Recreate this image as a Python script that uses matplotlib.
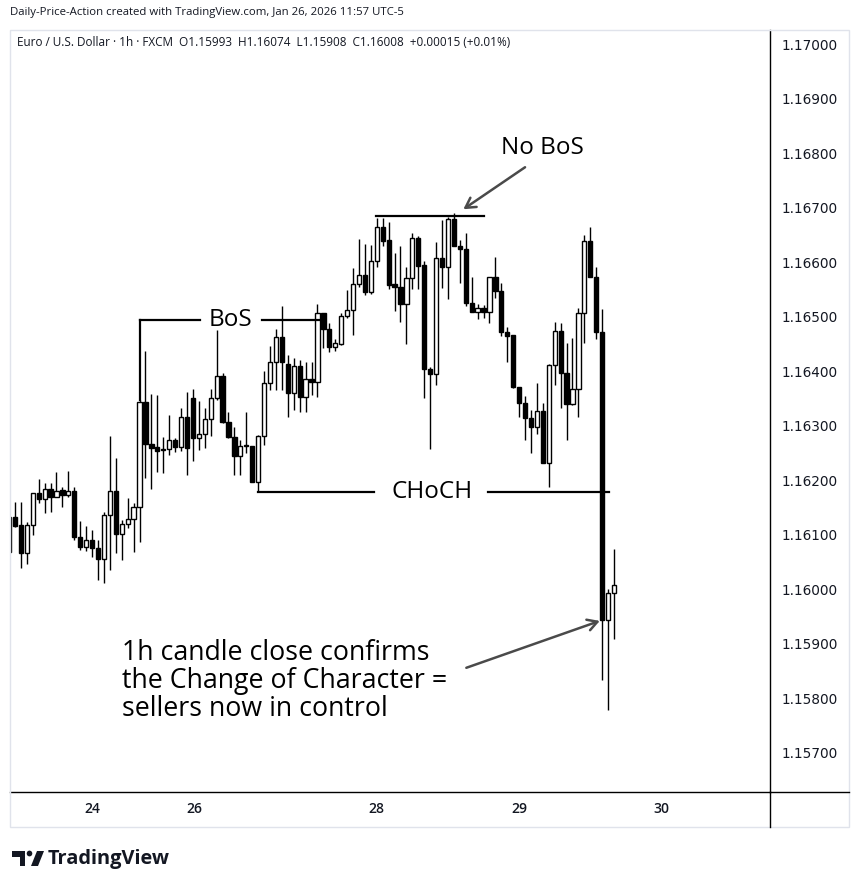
import matplotlib
matplotlib.use("Agg")
import matplotlib.pyplot as plt
from matplotlib.patches import Rectangle, Polygon, Circle, FancyArrowPatch
from matplotlib.lines import Line2D

# ---- data (EUR/USD 1h, FXCM) ----
opens = [1.16068, 1.16133, 1.16118, 1.16067, 1.16118, 1.16177, 1.16166, 1.16184, 1.16169, 1.16182,
         1.16173, 1.16180, 1.16096, 1.16078, 1.16090, 1.16076, 1.16056, 1.16136, 1.16180, 1.16101,
         1.16120, 1.16129, 1.16151, 1.16343, 1.16266, 1.16261, 1.16257, 1.16257, 1.16274, 1.16261,
         1.16316, 1.16351, 1.16277, 1.16285, 1.16312, 1.16351, 1.16391, 1.16307, 1.16279, 1.16244,
         1.16265, 1.16263, 1.16197, 1.16281, 1.16378, 1.16417, 1.16463, 1.16413, 1.16360, 1.16409,
         1.16353, 1.16386, 1.16380, 1.16507, 1.16477, 1.16444, 1.16450, 1.16501, 1.16512, 1.16560,
         1.16576, 1.16545, 1.16602, 1.16664, 1.16641, 1.16560, 1.16554, 1.16523, 1.16571, 1.16644,
         1.16595, 1.16404, 1.16395, 1.16608, 1.16591, 1.16679, 1.16630, 1.16624, 1.16525, 1.16508,
         1.16516, 1.16508, 1.16573, 1.16547, 1.16472, 1.16466, 1.16371, 1.16342, 1.16314, 1.16298,
         1.16327, 1.16232, 1.16411, 1.16474, 1.16397, 1.16340, 1.16367, 1.16507, 1.16639, 1.16573,
         1.16472, 1.15944, 1.15993]
highs = [1.16136, 1.16160, 1.16160, 1.16124, 1.16177, 1.16202, 1.16195, 1.16195, 1.16215, 1.16188,
         1.16217, 1.16188, 1.16125, 1.16116, 1.16109, 1.16090, 1.16142, 1.16281, 1.16241, 1.16127,
         1.16167, 1.16158, 1.16347, 1.16437, 1.16358, 1.16356, 1.16279, 1.16320, 1.16277, 1.16332,
         1.16362, 1.16367, 1.16345, 1.16332, 1.16367, 1.16475, 1.16397, 1.16325, 1.16298, 1.16274,
         1.16325, 1.16263, 1.16283, 1.16400, 1.16446, 1.16477, 1.16520, 1.16430, 1.16424, 1.16420,
         1.16417, 1.16417, 1.16523, 1.16507, 1.16488, 1.16459, 1.16507, 1.16549, 1.16589, 1.16642,
         1.16633, 1.16631, 1.16681, 1.16681, 1.16673, 1.16617, 1.16630, 1.16591, 1.16653, 1.16648,
         1.16602, 1.16408, 1.16637, 1.16677, 1.16683, 1.16690, 1.16641, 1.16653, 1.16573, 1.16523,
         1.16521, 1.16573, 1.16609, 1.16562, 1.16481, 1.16466, 1.16371, 1.16354, 1.16329, 1.16378,
         1.16342, 1.16413, 1.16490, 1.16488, 1.16452, 1.16461, 1.16516, 1.16650, 1.16664, 1.16591,
         1.16514, 1.16000, 1.16074]
lows = [1.16063, 1.16114, 1.16039, 1.16046, 1.16100, 1.16158, 1.16140, 1.16142, 1.16169, 1.16151,
        1.16169, 1.16090, 1.16072, 1.16070, 1.16059, 1.16017, 1.16012, 1.16036, 1.16067, 1.16054,
        1.16112, 1.16068, 1.16087, 1.16204, 1.16184, 1.16215, 1.16213, 1.16246, 1.16252, 1.16253,
        1.16210, 1.16235, 1.16255, 1.16259, 1.16281, 1.16347, 1.16305, 1.16277, 1.16210, 1.16210,
        1.16250, 1.16197, 1.16178, 1.16265, 1.16365, 1.16365, 1.16365, 1.16316, 1.16329, 1.16325,
        1.16325, 1.16356, 1.16353, 1.16442, 1.16435, 1.16437, 1.16448, 1.16497, 1.16466, 1.16554,
        1.16540, 1.16542, 1.16591, 1.16630, 1.16551, 1.16510, 1.16490, 1.16450, 1.16551, 1.16551,
        1.16351, 1.16257, 1.16375, 1.16553, 1.16532, 1.16630, 1.16562, 1.16520, 1.16508, 1.16496,
        1.16497, 1.16488, 1.16534, 1.16464, 1.16417, 1.16369, 1.16316, 1.16274, 1.16250, 1.16285,
        1.16232, 1.16188, 1.16375, 1.16332, 1.16274, 1.16338, 1.16316, 1.16452, 1.16573, 1.16459,
        1.15834, 1.15779, 1.15908]
closes = [1.16133, 1.16116, 1.16067, 1.16118, 1.16177, 1.16166, 1.16184, 1.16169, 1.16180, 1.16173,
          1.16180, 1.16096, 1.16078, 1.16090, 1.16076, 1.16056, 1.16136, 1.16180, 1.16101, 1.16120,
          1.16129, 1.16151, 1.16343, 1.16266, 1.16259, 1.16254, 1.16255, 1.16274, 1.16261, 1.16316,
          1.16259, 1.16277, 1.16285, 1.16312, 1.16351, 1.16391, 1.16307, 1.16279, 1.16244, 1.16263,
          1.16263, 1.16197, 1.16281, 1.16378, 1.16417, 1.16463, 1.16417, 1.16360, 1.16409, 1.16353,
          1.16386, 1.16380, 1.16507, 1.16477, 1.16444, 1.16452, 1.16501, 1.16512, 1.16560, 1.16576,
          1.16545, 1.16602, 1.16664, 1.16639, 1.16558, 1.16554, 1.16523, 1.16571, 1.16644, 1.16593,
          1.16404, 1.16395, 1.16608, 1.16591, 1.16679, 1.16630, 1.16624, 1.16525, 1.16508, 1.16516,
          1.16508, 1.16573, 1.16547, 1.16472, 1.16464, 1.16371, 1.16342, 1.16314, 1.16298, 1.16327,
          1.16232, 1.16411, 1.16474, 1.16397, 1.16340, 1.16367, 1.16507, 1.16639, 1.16573, 1.16472,
          1.15944, 1.15993, 1.16008]

date_labels = ["24", "26", "28", "29", "30"]
date_positions = [14, 31.2, 62, 86, 110]
price_ticks = [1.17000, 1.16900, 1.16800, 1.16700, 1.16600, 1.16500, 1.16400,
               1.16300, 1.16200, 1.16100, 1.16000, 1.15900, 1.15800, 1.15700]

header = "Daily-Price-Action created with TradingView.com, Jan 26, 2026 11:57 UTC-5"
legend = "Euro / U.S. Dollar \u00b7 1h \u00b7 FXCM  O1.15993  H1.16074  L1.15908  C1.16008  +0.00015 (+0.01%)"

W, H = 859, 888
fig = plt.figure(figsize=(W / 100, H / 100), dpi=100)
fig.patch.set_facecolor("white")

def fx(x):
    return x / W

def fy(y):
    return 1 - y / H

ax = fig.add_axes([fx(10), fy(792), (770 - 10) / W, (792 - 30) / H])
ax.set_facecolor("white")

xs = list(range(len(opens)))
body_w = 0.72
ax.vlines(xs, lows, highs, color="black", lw=1.0, zorder=2)
for i in xs:
    o, c = opens[i], closes[i]
    bottom = min(o, c)
    height = abs(c - o)
    face = "white" if c >= o else "black"
    ax.bar(i, height, bottom=bottom, width=body_w, facecolor=face,
           edgecolor="black", linewidth=1.0, zorder=3)

ax.set_xlim(0.16, 128.3)
ax.set_ylim(1.156282, 1.170257)

ax.set_yticks(price_ticks)
ax.set_yticklabels([f"{p:.5f}" for p in price_ticks])
ax.yaxis.tick_right()
ax.tick_params(axis="y", length=0, pad=8, labelsize=9.8, labelcolor="#131722")
for lab in ax.get_yticklabels():
    lab.set_fontfamily("DejaVu Sans")
ax.set_xticks(date_positions)
ax.set_xticklabels(date_labels)
ax.tick_params(axis="x", length=0, pad=7, labelsize=10, labelcolor="#131722")
for lab in ax.get_xticklabels():
    lab.set_fontfamily("Open Sans")
    lab.set_fontweight("semibold")

for s in ["top", "left"]:
    ax.spines[s].set_visible(False)
for s in ["right", "bottom"]:
    ax.spines[s].set_color("black")
    ax.spines[s].set_linewidth(1.0)

# outer card and axis extensions
fig.add_artist(Rectangle((fx(10), fy(827)), fx(849) - fx(10), fy(30) - fy(827),
                         transform=fig.transFigure, fill=False, edgecolor="#e0e3eb", lw=1.0))
fig.add_artist(Line2D([fx(770), fx(849)], [fy(792), fy(792)], transform=fig.transFigure,
                      color="black", lw=1.0))
fig.add_artist(Line2D([fx(770), fx(770)], [fy(792), fy(827)], transform=fig.transFigure,
                      color="black", lw=1.0))

# header texts
fig.text(fx(10), fy(13), header, fontsize=8.2, family="Open Sans", color="#131722",
         va="center", ha="left")
fig.text(fx(17), fy(42), legend, fontsize=8.45, family="Open Sans", color="#131722",
         va="center", ha="left")

# annotations
ann_font = dict(family="Open Sans", fontsize=17.5, color="black")
lw_ann = 1.6
# BoS
bos_y = 1.16494
ax.plot([22, 22], [1.16347, bos_y], color="black", lw=lw_ann, zorder=4)
ax.plot([22, 32.2], [bos_y, bos_y], color="black", lw=lw_ann, zorder=4)
ax.plot([42.6, 52.9], [bos_y, bos_y], color="black", lw=lw_ann, zorder=4)
ax.text(37.4, bos_y, "BoS", ha="center", va="center", **ann_font)
# CHoCH
ch_y = 1.16178
ax.plot([42, 61.6], [ch_y, ch_y], color="black", lw=lw_ann, zorder=4)
ax.plot([80.7, 101.2], [ch_y, ch_y], color="black", lw=lw_ann, zorder=4)
ax.text(71.3, ch_y, "CHoCH", ha="center", va="center", **ann_font)
# No BoS
nb_y = 1.16685
ax.plot([61.9, 80.1], [nb_y, nb_y], color="black", lw=lw_ann, zorder=4)
ax.text(89.9, 1.16809, "No BoS", ha="center", va="center", **ann_font)
ax.add_patch(FancyArrowPatch((87.0, 1.16774), (76.6, 1.16697), arrowstyle="->,head_length=7,head_width=4",
                             color="#4a4a4a", lw=1.8, zorder=5, shrinkA=0, shrinkB=0))
# explanation
ax.text(19.0, 1.15832, "1h candle close confirms\nthe Change of Character =\nsellers now in control",
        ha="left", va="center", linespacing=1.0, family="Open Sans", fontsize=19.3, color="black")
ax.add_patch(FancyArrowPatch((77.1, 1.15856), (99.6, 1.15942), arrowstyle="->,head_length=7,head_width=4",
                             color="#4a4a4a", lw=1.8, zorder=5, shrinkA=0, shrinkB=0))

# TradingView logo
fig.add_artist(Polygon([(fx(12), fy(851)), (fx(25), fy(851)), (fx(25), fy(866)), (fx(19.5), fy(866)),
                        (fx(19.5), fy(856.5)), (fx(12), fy(856.5))], closed=True,
                       transform=fig.transFigure, facecolor="#131722", edgecolor="none"))
fig.add_artist(Circle((fx(29.5), fy(853.5)), 2.8 / W, transform=fig.transFigure,
                      facecolor="#131722", edgecolor="none"))
fig.add_artist(Polygon([(fx(37), fy(851)), (fx(44), fy(851)), (fx(38), fy(866)), (fx(31), fy(866))],
                       closed=True, transform=fig.transFigure, facecolor="#131722", edgecolor="none"))
fig.text(fx(48), fy(858.5), "TradingView", fontsize=14.4, family="Open Sans", fontweight="bold",
         color="#131722", va="center", ha="left")

fig.savefig("out.png", dpi=100, facecolor="white")
